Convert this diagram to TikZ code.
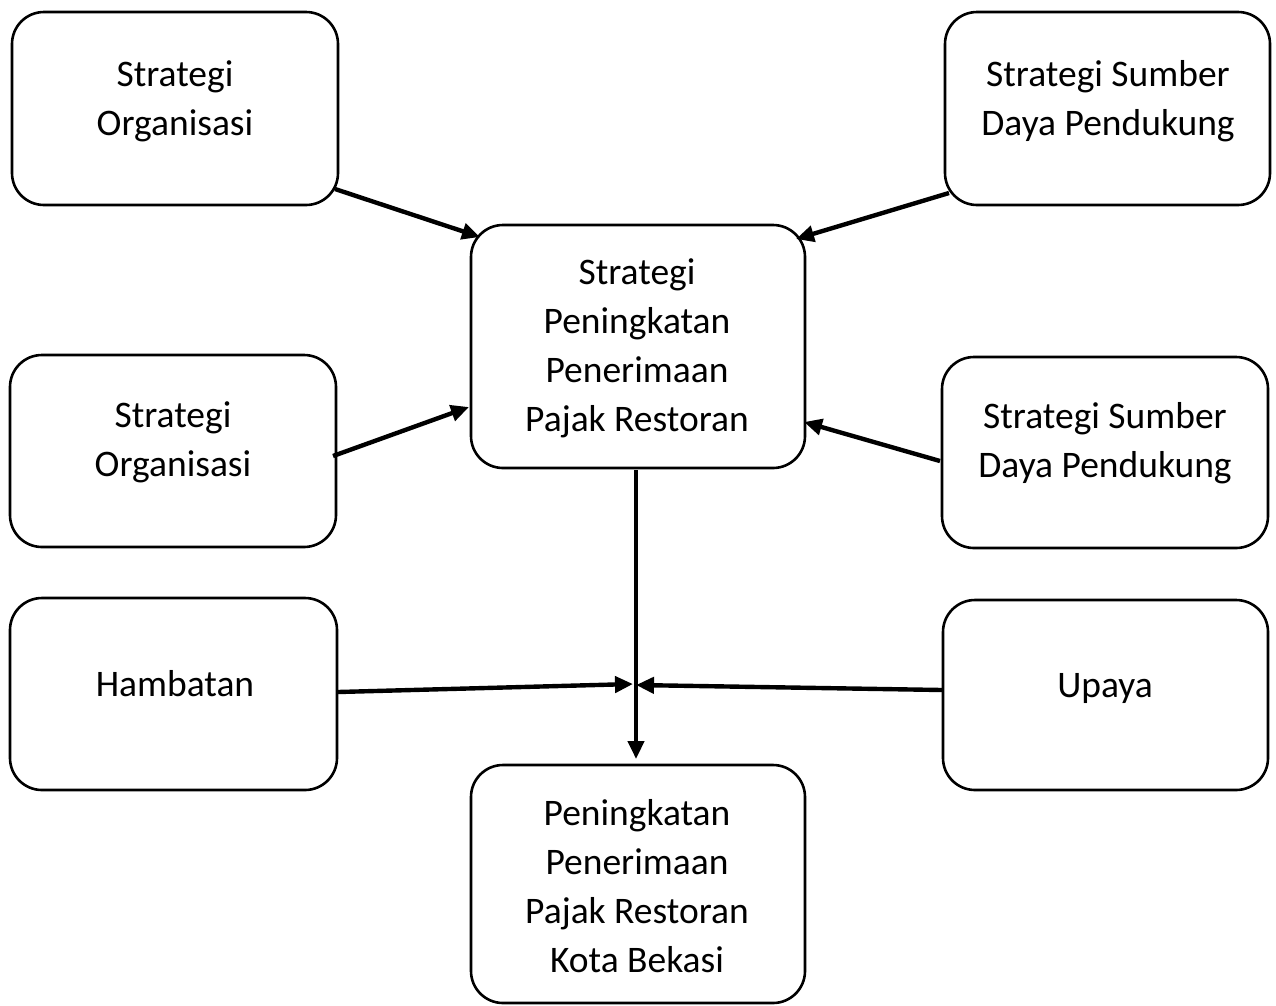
\documentclass[tikz,border=0pt]{standalone}
\usepackage{fontspec}
\setmainfont{Carlito}
\usetikzlibrary{arrows.meta}
\begin{document}
\begin{tikzpicture}[x=1pt,y=-1pt,
  box/.style={draw=black, line width=2.6pt, rounded corners=32pt, fill=white, inner sep=0pt},
  lbl/.style={align=center, font=\fontsize{37.5}{49}\selectfont, inner sep=0pt},
  conn/.style={line width=4.4pt, -{Triangle[length=18pt,width=16pt]}}]
\useasboundingbox (0,0) rectangle (1276,1005);
% boxes
\node[box, minimum width=326pt, minimum height=193pt] (b1) at (175,108.5) {};
\node[box, minimum width=325pt, minimum height=193pt] (b2) at (1107.5,108.5) {};
\node[box, minimum width=334pt, minimum height=243pt] (c) at (638,346.5) {};
\node[box, minimum width=326pt, minimum height=192pt] (b3) at (173,451) {};
\node[box, minimum width=326pt, minimum height=191pt] (b4) at (1105,452.5) {};
\node[box, minimum width=327pt, minimum height=192pt] (b5) at (173.5,694) {};
\node[box, minimum width=325pt, minimum height=190pt] (b6) at (1105.5,695) {};
\node[box, minimum width=334pt, minimum height=238pt] (d) at (638,884) {};
% texts
\node[lbl] (t1) at (175,101.5) {Strategi\\Organisasi};
\node[lbl] (t2) at (1108,101.5) {Strategi Sumber\\Daya Pendukung};
\node[lbl] (tc) at (637,348) {Strategi\\Peningkatan\\Penerimaan\\Pajak Restoran};
\node[lbl] (t3) at (173,442.5) {Strategi\\Organisasi};
\node[lbl] (t4) at (1105,443) {Strategi Sumber\\Daya Pendukung};
\node[lbl] (t5) at (175,683.5) {Hambatan};
\node[lbl] (t6) at (1105,688) {Upaya};
\node[lbl] (td) at (637,886) {Peningkatan\\Penerimaan\\Pajak Restoran\\Kota Bekasi};
% connector points
\coordinate (s1) at (335,189);
\coordinate (e1) at (480,237);
\coordinate (s2) at (949,193);
\coordinate (e2) at (796,239);
\coordinate (s3) at (333,456);
\coordinate (e3) at (469,407);
\coordinate (s4) at (940,461);
\coordinate (e4) at (804,422);
\coordinate (sv) at (636,470);
\coordinate (ev) at (636,759);
\coordinate (s5) at (338,692);
\coordinate (e5) at (633,684);
\coordinate (s6) at (942,690);
\coordinate (e6) at (636,685);
\draw[conn] (s1) -- (e1);
\draw[conn] (s2) -- (e2);
\draw[conn] (s3) -- (e3);
\draw[conn] (s4) -- (e4);
\draw[conn] (sv) -- (ev);
\draw[conn] (s5) -- (e5);
\draw[conn] (s6) -- (e6);
\end{tikzpicture}
\end{document}
